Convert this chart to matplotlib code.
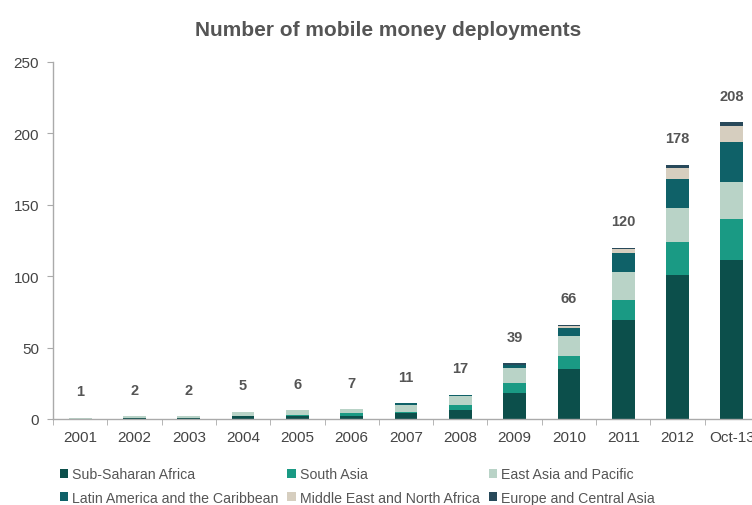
import matplotlib
matplotlib.use("Agg")
import matplotlib.pyplot as plt
import numpy as np
from matplotlib.patches import Patch

categories = ["2001", "2002", "2003", "2004", "2005", "2006", "2007",
              "2008", "2009", "2010", "2011", "2012", "Oct-13"]
totals = [1, 2, 2, 5, 6, 7, 11, 17, 39, 66, 120, 178, 208]

sub_saharan = [0, 1, 1, 2, 2, 2, 4, 6, 18, 35, 69, 101, 111]
south_asia = [0, 0, 0, 0, 1, 2, 1, 4, 7, 9, 14, 23, 29]
east_asia = [1, 1, 1, 3, 3, 3, 5, 6, 11, 14, 20, 24, 26]
latin_america = [0, 0, 0, 0, 0, 0, 1, 1, 2, 6, 13, 20, 28]
mena = [0, 0, 0, 0, 0, 0, 0, 0, 0, 1, 3, 8, 11]
europe_ca = [0, 0, 0, 0, 0, 0, 0, 0, 1, 1, 1, 2, 3]

series_names = ["Sub-Saharan Africa", "South Asia", "East Asia and Pacific",
                "Latin America and the Caribbean", "Middle East and North Africa",
                "Europe and Central Asia"]
series_values = [sub_saharan, south_asia, east_asia, latin_america, mena, europe_ca]
colors = ["#0c4f4b", "#1a9a84", "#b9d3c7", "#0f6168", "#d6cebf", "#28495a"]

yticks = [0, 50, 100, 150, 200, 250]
title = "Number of mobile money deployments"

plt.rcParams["font.family"] = ["Liberation Sans", "DejaVu Sans"]

fig = plt.figure(figsize=(7.52, 5.06), dpi=100)
ax = fig.add_axes([53 / 752, 86 / 506, 706 / 752, 357 / 506])

x = np.arange(len(categories))
bottom = np.zeros(len(categories))
for name, vals, c in zip(series_names, series_values, colors):
    v = np.array(vals, dtype=float)
    ax.bar(x, v, width=0.42, bottom=bottom, color=c, label=name, zorder=2)
    bottom += v

for xi, t in zip(x, totals):
    ax.annotate(str(t), (xi, t), xytext=(0, 14), textcoords="offset points",
                ha="center", va="bottom", fontsize=10.5, fontweight="bold",
                color="#555555")

ax.set_xlim(-0.5, len(categories) - 0.5)
ax.set_ylim(0, 250)
ax.set_yticks(yticks)
ax.set_yticklabels([str(v) for v in yticks], fontsize=11, color="#444444")
ax.set_xticks(x)
ax.set_xticklabels(categories, fontsize=11, color="#444444")
ax.tick_params(axis="x", length=0, pad=8)
ax.set_xticks(np.arange(-0.5, len(categories)), minor=True)
ax.tick_params(axis="x", which="minor", length=4, color="#aaaaaa", direction="out")
ax.tick_params(axis="y", length=4, color="#aaaaaa", direction="out", pad=6)
for s in ["top", "right"]:
    ax.spines[s].set_visible(False)
for s in ["left", "bottom"]:
    ax.spines[s].set_color("#aaaaaa")
    ax.spines[s].set_linewidth(1.0)

fig.text(388 / 752, 1 - 30 / 506, title, ha="center", va="center",
         fontsize=15, fontweight="bold", color="#555555")

# legend filled row by row (3 columns)
order = [0, 3, 1, 4, 2, 5]
handles = [Patch(facecolor=colors[i], edgecolor="none") for i in order]
labels = [series_names[i] for i in order]
leg = fig.legend(handles, labels, loc="center left",
                 bbox_to_anchor=(47 / 752, 1 - 487 / 506), ncol=3, frameon=False,
                 fontsize=10.2, handlelength=0.6, handleheight=0.6, handletextpad=0.3,
                 columnspacing=0.6, labelspacing=0.65, labelcolor="#555555")

fig.savefig("out.png", dpi=100)
